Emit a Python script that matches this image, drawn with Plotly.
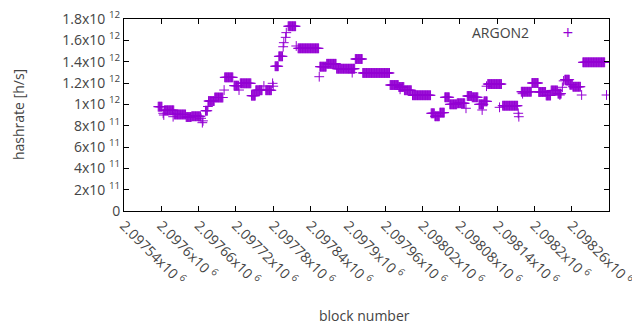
import plotly.graph_objects as go

# Runs of consecutive blocks with the same hashrate (start block, end block, value)
seg_start = [2097595, 2097603, 2097604, 2097605, 2097619, 2097621, 2097640, 2097649, 2097664, 2097666,
             2097667, 2097671, 2097675, 2097676, 2097686, 2097701, 2097702, 2097717, 2097725, 2097727,
             2097745, 2097752, 2097765, 2097768, 2097779, 2097780, 2097783, 2097789, 2097796, 2097797,
             2097800, 2097801, 2097804, 2097817, 2097820, 2097854, 2097855, 2097866, 2097882, 2097907,
             2097912, 2097924, 2097968, 2097982, 2097984, 2097991, 2098004, 2098034, 2098040, 2098048,
             2098056, 2098064, 2098076, 2098090, 2098092, 2098100, 2098111, 2098116, 2098119, 2098123,
             2098125, 2098144, 2098149, 2098174, 2098175, 2098179, 2098181, 2098196, 2098207, 2098219,
             2098227, 2098238, 2098241, 2098245, 2098247, 2098249, 2098257, 2098262, 2098276, 2098278,
             2098316]
seg_end = [2097601, 2097603, 2097604, 2097620, 2097619, 2097639, 2097648, 2097663, 2097664, 2097666,
           2097667, 2097674, 2097675, 2097685, 2097699, 2097701, 2097715, 2097724, 2097725, 2097744,
           2097751, 2097762, 2097765, 2097777, 2097779, 2097780, 2097788, 2097795, 2097796, 2097797,
           2097800, 2097801, 2097816, 2097817, 2097853, 2097854, 2097865, 2097881, 2097911, 2097907,
           2097923, 2097967, 2097981, 2097990, 2097984, 2098002, 2098033, 2098039, 2098047, 2098055,
           2098063, 2098075, 2098088, 2098090, 2098099, 2098109, 2098118, 2098116, 2098124, 2098123,
           2098147, 2098144, 2098173, 2098174, 2098175, 2098195, 2098181, 2098206, 2098218, 2098226,
           2098237, 2098243, 2098241, 2098245, 2098247, 2098256, 2098261, 2098274, 2098276, 2098313,
           2098316]
seg_val = [9.78e11, 9.16e11, 9.00e11, 9.44e11, 8.84e11, 9.05e11, 8.81e11, 8.88e11, 8.69e11, 8.28e11,
           8.45e11, 9.40e11, 9.80e11, 1.031e12, 1.064e12, 1.134e12, 1.253e12, 1.175e12, 1.134e12, 1.197e12,
           1.081e12, 1.132e12, 1.172e12, 1.132e12, 1.197e12, 1.170e12, 1.357e12, 1.450e12, 1.540e12, 1.578e12,
           1.628e12, 1.672e12, 1.732e12, 1.547e12, 1.525e12, 1.259e12, 1.353e12, 1.380e12, 1.334e12, 1.297e12,
           1.425e12, 1.294e12, 1.181e12, 1.1625e12, 1.141e12, 1.132e12, 1.085e12, 9.16e11, 8.88e11, 9.22e11,
           1.066e12, 1.000e12, 1.010e12, 9.63e11, 1.078e12, 1.066e12, 1.000e12, 9.47e11, 1.028e12, 1.170e12,
           1.190e12, 9.72e11, 9.87e11, 9.16e11, 8.84e11, 1.118e12, 1.100e12, 1.200e12, 1.116e12, 1.083e12,
           1.130e12, 1.100e12, 1.0875e12, 1.160e12, 1.220e12, 1.231e12, 1.184e12, 1.165e12, 1.0875e12, 1.394e12,
           1.0875e12]

x_tick_vals = [2097540 + 60 * i for i in range(14)]
x_tick_text = ["2.09754", "2.0976", "2.09766", "2.09772", "2.09778", "2.09784", "2.0979",
               "2.09796", "2.09802", "2.09808", "2.09814", "2.0982", "2.09826", "2.09832"]
y_tick_vals = [0, 2e11, 4e11, 6e11, 8e11, 1e12, 1.2e12, 1.4e12, 1.6e12, 1.8e12]
y_tick_text = ["0", "2x10 <sup>11</sup>", "4x10 <sup>11</sup>", "6x10 <sup>11</sup>", "8x10 <sup>11</sup>",
               "1x10 <sup>12</sup>", "1.2x10 <sup>12</sup>", "1.4x10 <sup>12</sup>", "1.6x10 <sup>12</sup>",
               "1.8x10 <sup>12</sup>"]

xs, ys = [], []
for s, e, v in zip(seg_start, seg_end, seg_val):
    for b in range(s, e + 1):
        xs.append(b)
        ys.append(v)

COLOR = "#9400D3"

# page body has an 8px margin: figure origin sits at (8, 8) in the window
OFF = 8
W, H = 640 - OFF, 330 - OFF
PL, PR, PT, PB = 124, 609, 19, 211  # plot box in window pixels

fig = go.Figure()
fig.add_trace(go.Scatter(
    x=xs, y=ys, mode="markers", name="ARGON2",
    marker=dict(symbol="cross-thin", size=7, color=COLOR, line=dict(color=COLOR, width=1)),
    showlegend=False,
))

axis_common = dict(showline=True, linecolor="black", linewidth=1, mirror="allticks",
                   ticks="inside", ticklen=5, tickcolor="black",
                   showgrid=False, zeroline=False)

def px_x(p):
    return (p - PL) / (PR - PL)

def px_y(p):
    return (PB - p) / (PB - PT)

fig.update_layout(
    template="none",
    width=W, height=H,
    margin=dict(l=PL - OFF, r=W - (PR - OFF), t=PT - OFF, b=H - (PB - OFF)),
    showlegend=False,
    font=dict(size=14),
    xaxis=dict(range=[2097540, 2098320], tickmode="array", tickvals=x_tick_vals,
               ticktext=[t + "x10 <sup>6</sup>" for t in x_tick_text], tickangle=45, **axis_common),
    yaxis=dict(range=[0, 1.8e12], tickmode="array", tickvals=y_tick_vals,
               ticktext=y_tick_text, **axis_common),
    annotations=[
        dict(text="ARGON2", x=px_x(531), y=px_y(32), xref="paper", yref="paper",
             xanchor="right", yanchor="middle", showarrow=False),
        dict(text="+", x=px_x(568), y=px_y(32), xref="paper", yref="paper",
             xanchor="center", yanchor="middle", showarrow=False,
             font=dict(size=14, color=COLOR, family="DejaVu Sans")),
        dict(text="hashrate [h/s]", x=px_x(18), y=px_y(115), xref="paper", yref="paper",
             textangle=-90, showarrow=False, xanchor="center", yanchor="middle"),
        dict(text="block number", x=px_x(364), y=px_y(315), xref="paper", yref="paper",
             showarrow=False, xanchor="center", yanchor="middle"),
    ],
)

fig.write_html("out.html")
